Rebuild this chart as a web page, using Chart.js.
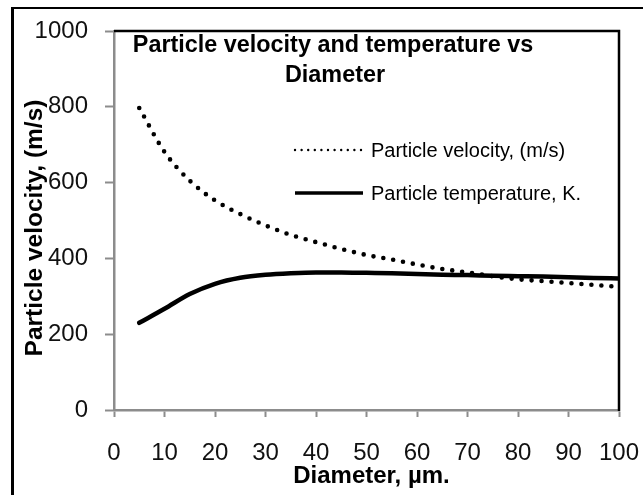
<!DOCTYPE html>
<html>
<head>
<meta charset="utf-8">
<script src="https://cdn.jsdelivr.net/npm/chart.js@4"></script>
<style>
  html, body { margin: 0; padding: 0; background: #fff; }
  #wrap { position: relative; width: 643px; height: 495px; overflow: hidden; }
  #frame { position: absolute; left: 11px; top: 7px; width: 700px; height: 600px;
           border-left: 3px solid #000; border-top: 2px solid #000; }
  canvas { position: absolute; left: 0; top: 0; }
</style>
</head>
<body>
<div id="wrap">
  <div id="frame"></div>
  <canvas id="chart" width="643" height="495"></canvas>
</div>
<script>
// values
const diameters = [5, 10, 15, 20, 25, 30, 35, 40, 45, 50, 55, 60, 65, 70, 75, 80, 85, 90, 95, 100];
const velocity = [797, 681, 605, 553, 517, 487, 462, 443, 425, 409, 397, 384, 372, 363, 353, 345, 340, 335, 330, 325];
const temperature = [230, 267, 306, 333, 349, 357, 361, 363, 363, 362, 361, 359, 357, 356, 354, 353, 352, 350, 348, 347];
const xTicks = [0, 10, 20, 30, 40, 50, 60, 70, 80, 90, 100];
const yTicks = [0, 200, 400, 600, 800, 1000];
const seriesNames = ["Particle velocity, (m/s)", "Particle temperature, K."];
const titleLines = ["Particle velocity and temperature vs", "Diameter"];
const xTitle = "Diameter, \u00b5m.";
const yTitle = "Particle velocity, (m/s)";

const FONT = '"Liberation Sans", Arial, sans-serif';

function points(ys) {
  return diameters.map(function (d, i) { return { x: d, y: ys[i] }; });
}

// title, axis titles, legend and the black top/right plot edge
const decor = {
  id: "decor",
  afterDraw: function (chart) {
    const ctx = chart.ctx;
    const a = chart.chartArea;
    ctx.save();

    ctx.strokeStyle = "#000";
    ctx.lineWidth = 2.5;
    ctx.beginPath();
    ctx.moveTo(a.left, a.top);
    ctx.lineTo(a.right, a.top);
    ctx.lineTo(a.right, a.bottom + 1);
    ctx.stroke();

    ctx.fillStyle = "#000";
    ctx.textAlign = "center";
    ctx.textBaseline = "alphabetic";
    ctx.font = "bold 23.4px " + FONT;
    ctx.fillText(titleLines[0], 333, 51.5);
    ctx.fillText(titleLines[1], 335, 81.5);

    ctx.font = "bold 24px " + FONT;
    ctx.fillText(xTitle, 371.5, 483);

    ctx.save();
    ctx.translate(41.5, 228);
    ctx.rotate(-Math.PI / 2);
    ctx.font = "bold 24.5px " + FONT;
    ctx.fillText(yTitle, 0, 0);
    ctx.restore();

    // legend
    const rows = [150, 193];
    chart.data.datasets.forEach(function (ds, i) {
      const y = rows[i];
      ctx.beginPath();
      ctx.strokeStyle = ds.borderColor;
      ctx.lineCap = "round";
      if (ds.borderDash && ds.borderDash.length) {
        ctx.lineWidth = 2.4;
        ctx.setLineDash([0, 6.6]);
      } else {
        ctx.lineWidth = 3.5;
        ctx.setLineDash([]);
        ctx.lineCap = "butt";
      }
      ctx.moveTo(295, y);
      ctx.lineTo(363, y);
      ctx.stroke();
      ctx.setLineDash([]);
      ctx.font = "20px " + FONT;
      ctx.textAlign = "left";
      ctx.textBaseline = "middle";
      ctx.fillStyle = "#000";
      ctx.fillText(ds.label, 371, y + 1);
    });
    ctx.restore();
  }
};

new Chart(document.getElementById("chart").getContext("2d"), {
  type: "line",
  data: {
    datasets: [
      {
        label: seriesNames[0],
        data: points(velocity),
        borderColor: "#000",
        borderWidth: 4.6,
        borderDash: [0, 10],
        borderCapStyle: "round",
        pointRadius: 0,
        fill: false,
        cubicInterpolationMode: "monotone"
      },
      {
        label: seriesNames[1],
        data: points(temperature),
        borderColor: "#000",
        borderWidth: 4.5,
        borderCapStyle: "round",
        pointRadius: 0,
        fill: false,
        cubicInterpolationMode: "monotone"
      }
    ]
  },
  options: {
    responsive: false,
    animation: false,
    layout: { padding: { top: 31, right: 24, left: 0, bottom: 0 } },
    plugins: {
      legend: { display: false },
      title: { display: false },
      tooltip: { enabled: false }
    },
    scales: {
      x: {
        type: "linear",
        min: 0,
        max: 100,
        afterBuildTicks: function (scale) {
          scale.ticks = xTicks.map(function (v) { return { value: v }; });
        },
        afterFit: function (scale) {
          scale.height = 85;
          scale.paddingLeft = 0;
          scale.paddingRight = 0;
        },
        grid: { drawOnChartArea: false, tickLength: 7, tickColor: "#8c8c8c", tickWidth: 2 },
        border: { color: "#8c8c8c", width: 2.5 },
        ticks: {
          color: "#111", padding: 22, maxRotation: 0, font: { family: FONT, size: 24 },
          callback: function (v) { return String(v); }
        }
      },
      y: {
        min: 0,
        max: 1000,
        afterBuildTicks: function (scale) {
          scale.ticks = yTicks.map(function (v) { return { value: v }; });
        },
        afterFit: function (scale) {
          scale.width = 114;
          scale.paddingTop = 0;
          scale.paddingBottom = 0;
        },
        grid: { drawOnChartArea: false, tickLength: 9, tickColor: "#8c8c8c", tickWidth: 2 },
        border: { color: "#8c8c8c", width: 2.5 },
        ticks: {
          color: "#111", padding: 17, font: { family: FONT, size: 24 },
          callback: function (v) { return String(v); }
        }
      }
    }
  },
  plugins: [decor]
});
</script>
</body>
</html>
